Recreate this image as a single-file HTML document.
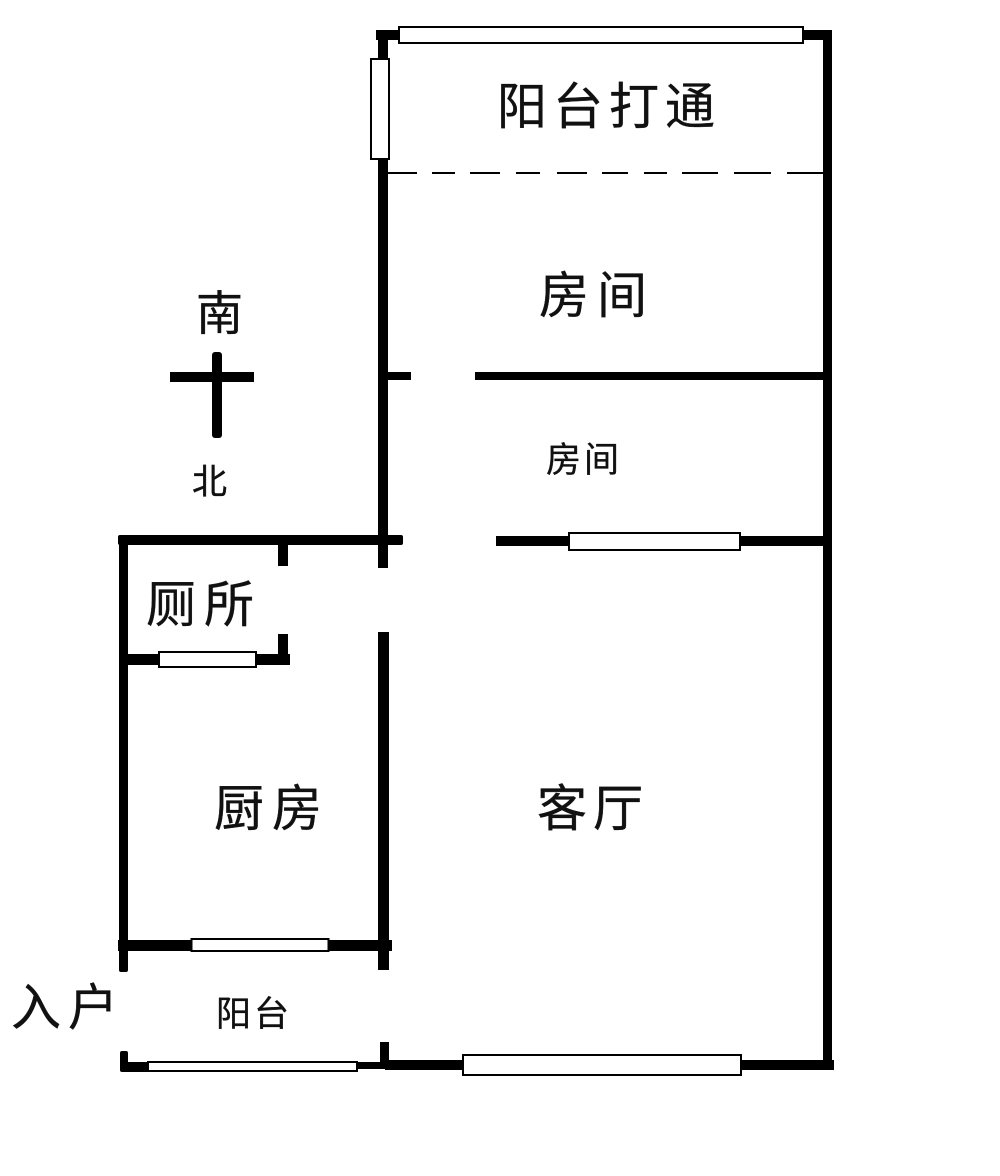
<!DOCTYPE html>
<html><head><meta charset="utf-8"><style>
html,body{margin:0;padding:0;background:#fff}
svg{display:block}
text{font-family:"Liberation Sans","WenQuanYi Zen Hei","Noto Sans CJK SC",sans-serif;fill:#111;stroke:#111;stroke-width:.35}
</style></head><body>
<svg width="1000" height="1176" viewBox="0 0 1000 1176" xmlns="http://www.w3.org/2000/svg">
<rect width="1000" height="1176" fill="#fff"/>
<g fill="#000">
<!-- upper block -->
<rect x="376" y="30" width="456" height="10"/>
<rect x="378" y="30" width="10" height="538"/>
<rect x="823" y="30" width="9" height="1040"/>
<rect x="378" y="372" width="33" height="8"/>
<rect x="475" y="372" width="348" height="8"/>
<rect x="496" y="536" width="327" height="10"/>
<!-- toilet/kitchen -->
<rect x="118" y="535" width="285" height="10" rx="2"/>
<rect x="119" y="535" width="9" height="437" rx="2"/>
<rect x="278" y="545" width="10" height="21"/>
<rect x="278" y="634" width="10" height="30"/>
<rect x="128" y="654" width="162" height="11"/>
<rect x="378" y="632" width="11" height="338"/>
<rect x="118" y="940" width="274" height="11"/>
<!-- bottom -->
<rect x="120" y="1051" width="8" height="21" rx="2"/>
<rect x="120" y="1062" width="30" height="10" rx="3"/>
<rect x="355" y="1062" width="30" height="7" rx="3"/>
<rect x="380" y="1042" width="9" height="27"/>
<rect x="385" y="1060" width="449" height="10"/>
<!-- compass -->
<rect x="170" y="372" width="84" height="10"/>
<rect x="212" y="352" width="10" height="86" rx="3"/>
</g>
<!-- windows -->
<g fill="#fff" stroke="#000" stroke-width="2">
<rect x="399" y="27" width="404" height="16"/>
<rect x="371" y="59" width="18" height="100"/>
<rect x="569" y="533" width="171" height="17"/>
<rect x="159" y="652" width="97" height="15"/>
<rect x="191.500" y="939" width="137" height="12"/>
<rect x="148" y="1062" width="209" height="9"/>
<rect x="463" y="1055" width="278" height="20"/>
</g>
<!-- dashed -->
<g stroke="#000" stroke-width="2">
<path d="M388 173H417M432 173H455M470 173H500M516 173H540M557 173H587M602 173H628M644 173H667M682 173H718M734 173H771M787 173H823"/>
</g>
<text x="497" y="124" font-size="50" letter-spacing="6">阳台打通</text>
<text x="539" y="313" font-size="50" letter-spacing="8">房间</text>
<text x="546" y="472" font-size="35" letter-spacing="3">房间</text>
<text x="196" y="330" font-size="47">南</text>
<text x="192" y="494" font-size="35">北</text>
<text x="146" y="622" font-size="50" letter-spacing="8">厕所</text>
<text x="214" y="826" font-size="50" letter-spacing="8">厨房</text>
<text x="537" y="826" font-size="50" letter-spacing="6">客厅</text>
<text x="11" y="1025" font-size="50" letter-spacing="7">入户</text>
<text x="216" y="1026" font-size="35" letter-spacing="3">阳台</text>
</svg>
</body></html>
